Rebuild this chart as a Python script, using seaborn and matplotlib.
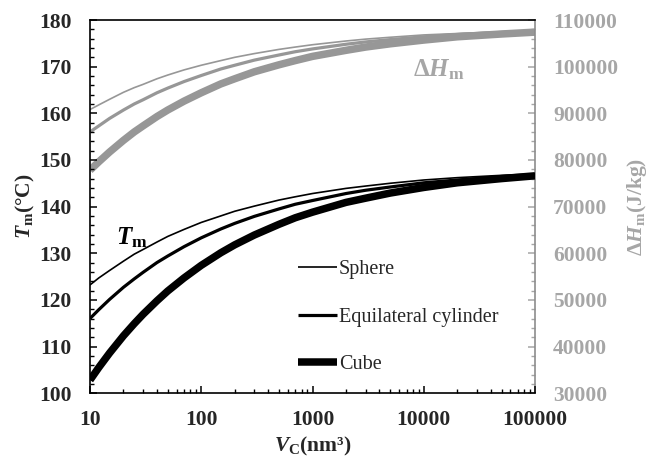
import numpy as np
import pandas as pd
import seaborn as sns
import matplotlib
matplotlib.use("Agg")
import matplotlib.pyplot as plt
from matplotlib.ticker import MultipleLocator, LogLocator, FixedLocator, FixedFormatter, NullFormatter

# ---- data ----
vc = [10, 12, 15, 20, 25, 30, 40, 50, 70, 100, 150, 200, 300, 500, 700,
      1000, 2000, 3000, 5000, 10000, 20000, 50000, 100000]

tm_sphere = [123.2, 124.7, 126.3, 128.3, 129.8, 130.8, 132.4, 133.6, 135.1, 136.6, 138.0, 139.0,
             140.1, 141.4, 142.1, 142.8, 143.9, 144.4, 145.0, 145.7, 146.2, 146.7, 147.0]
tm_cylinder = [116.0, 117.9, 120.1, 122.7, 124.5, 125.9, 128.0, 129.4, 131.4, 133.3, 135.2, 136.4,
               137.9, 139.5, 140.5, 141.3, 142.8, 143.5, 144.2, 145.1, 145.7, 146.4, 146.8]
tm_cube = [102.8, 105.5, 108.6, 112.3, 114.9, 116.9, 119.8, 121.9, 124.7, 127.4, 130.1, 131.8,
           133.9, 136.2, 137.6, 138.8, 140.9, 141.8, 142.9, 144.1, 145.1, 146.0, 146.6]

dh_sphere = [90800, 91800, 93000, 94500, 95500, 96200, 97400, 98200, 99300, 100300, 101300, 102000,
             102800, 103700, 104200, 104700, 105500, 105900, 106300, 106800, 107100, 107500, 107700]
dh_cylinder = [86000, 87300, 88900, 90700, 92000, 92900, 94400, 95400, 96800, 98100, 99500, 100300,
               101400, 102500, 103200, 103800, 104800, 105300, 105800, 106400, 106900, 107300, 107600]
dh_cube = [77800, 79600, 81700, 84200, 86000, 87300, 89300, 90700, 92600, 94400, 96300, 97400,
           98900, 100400, 101300, 102200, 103500, 104200, 104900, 105700, 106400, 107000, 107400]

shapes = ["Sphere", "Equilateral cylinder", "Cube"]
x_ticks = [10, 100, 1000, 10000, 100000]
x_ticklabels = ["10", "100", "1000", "10000", "100000"]

# ---- style ----
sns.set_style("white")
plt.rcParams["font.family"] = ["Liberation Serif", "DejaVu Serif"]
plt.rcParams["mathtext.fontset"] = "custom"
plt.rcParams["mathtext.rm"] = "Liberation Serif:bold"
plt.rcParams["mathtext.bf"] = "Liberation Serif:bold"
plt.rcParams["mathtext.it"] = "Liberation Serif:bold:italic"

GRAY_LINE = "#979797"
GRAY_TEXT = "#a6a6a6"
widths = [1.2, 2.3, 5.4]

fig = plt.figure(figsize=(6.52, 4.62), dpi=100)
ax = fig.add_axes([0.138, 0.149, 0.8206 - 0.138, 0.9567 - 0.149])
ax2 = ax.twinx()

tm_series = [tm_sphere, tm_cylinder, tm_cube]
dh_series = [dh_sphere, dh_cylinder, dh_cube]

for name, ys, lw in zip(shapes, tm_series, widths):
    sns.lineplot(x=vc, y=ys, ax=ax, color="black", linewidth=lw, label=name,
                 solid_capstyle="butt", legend=False)
for name, ys, lw in zip(shapes, dh_series, widths):
    sns.lineplot(x=vc, y=ys, ax=ax2, color=GRAY_LINE, linewidth=lw,
                 solid_capstyle="butt", legend=False)

ax.set_xscale("log")
ax.set_xlim(10, 100000)
ax.set_ylim(100, 180)
ax2.set_ylim(30000, 110000)

ax.xaxis.set_major_locator(FixedLocator(x_ticks))
ax.xaxis.set_major_formatter(FixedFormatter(x_ticklabels))
ax.xaxis.set_minor_locator(LogLocator(base=10, subs=np.arange(2, 10), numticks=20))
ax.xaxis.set_minor_formatter(NullFormatter())
ax.yaxis.set_major_locator(MultipleLocator(10))
ax.yaxis.set_minor_locator(MultipleLocator(2))
ax2.yaxis.set_major_locator(MultipleLocator(10000))
ax2.yaxis.set_minor_locator(MultipleLocator(2000))

ax.tick_params(axis="both", which="major", direction="in", length=5, width=1.1,
               labelsize=15.5, color="black")
ax.tick_params(axis="both", which="minor", direction="in", length=3, width=1.0, color="black")
ax.tick_params(axis="x", which="both", top=False, bottom=True)
ax.tick_params(axis="x", which="major", pad=12)
ax.tick_params(axis="y", which="both", left=True, right=False)
ax.tick_params(axis="y", which="major", pad=13)
ax2.tick_params(axis="y", which="major", direction="in", length=5, width=1.1,
                labelsize=15.5, color=GRAY_TEXT, labelcolor=GRAY_TEXT, pad=13)
ax2.tick_params(axis="y", which="minor", direction="in", length=3, width=1.0, color=GRAY_TEXT)

for lab in ax.get_xticklabels() + ax.get_yticklabels() + ax2.get_yticklabels():
    lab.set_fontweight("bold")

for sp in ["left", "bottom", "top"]:
    ax.spines[sp].set_color("black")
    ax.spines[sp].set_linewidth(1.2)
for sp in ["left", "bottom", "top"]:
    ax2.spines[sp].set_visible(False)
ax.spines["right"].set_visible(False)
ax2.spines["right"].set_color("#8c8c8c")
ax2.spines["right"].set_linewidth(1.2)

ax.set_xlabel("$V_\\mathrm{C}$(nm³)", fontsize=15.5, fontweight="bold", labelpad=4)
ax.set_ylabel("$T_\\mathrm{m}$(°C)", fontsize=15.5, fontweight="bold", labelpad=2)
ax2.set_ylabel("Δ$H_\\mathrm{m}$(J/kg)", fontsize=15.5, fontweight="bold", color=GRAY_TEXT, labelpad=5)

ax.text(0.094, 0.416, "$T_\\mathrm{m}$", transform=ax.transAxes, fontsize=18,
        ha="center", va="center", color="black")
ax2.text(0.783, 0.868, "Δ$H_\\mathrm{m}$", transform=ax.transAxes, fontsize=18,
         ha="center", va="center", color=GRAY_TEXT, fontweight="bold")

handles, labels = ax.get_legend_handles_labels()
leg = ax.legend(handles, labels, loc="upper left", bbox_to_anchor=(0.467, 0.356),
                frameon=False, fontsize=14.5, handlelength=1.95, handletextpad=0.1,
                labelspacing=1.41, borderpad=0, borderaxespad=0)
ax2.set_zorder(ax.get_zorder() - 1)
ax.patch.set_visible(False)
ax2.patch.set_visible(True)
ax2.patch.set_facecolor("white")

fig.savefig("out.png", dpi=100)
